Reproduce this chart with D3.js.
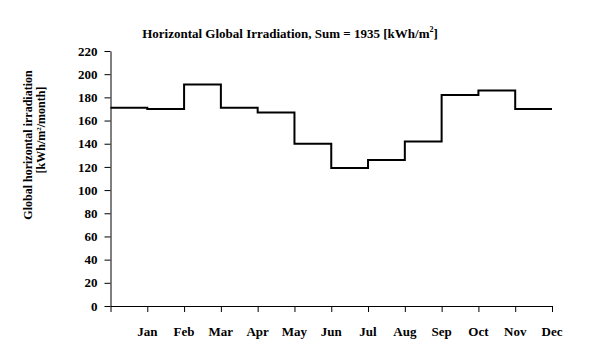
<!DOCTYPE html>
<html>
<head>
<meta charset="utf-8">
<script src="https://cdn.jsdelivr.net/npm/d3@7"></script>
<style>
  body { margin: 0; background: #fff; }
  text { font-family: "Liberation Serif", "Times New Roman", serif; font-weight: bold; fill: #000; }
</style>
</head>
<body>
<div id="chart"></div>
<script>
// monthly global horizontal irradiation, kWh/m2/month
const months = ["Jan", "Feb", "Mar", "Apr", "May", "Jun", "Jul", "Aug", "Sep", "Oct", "Nov", "Dec"];
const irradiation = [171, 170, 191, 171, 167, 140, 119, 126, 142, 182, 186, 170];
const yTicks = [0, 20, 40, 60, 80, 100, 120, 140, 160, 180, 200, 220];

const width = 610, height = 357;
const margin = { left: 110.5, right: 58, top: 51, bottom: 51 };

const svg = d3.select("#chart").append("svg")
    .attr("width", width)
    .attr("height", height);

const x = d3.scaleLinear().domain([0, 12]).range([margin.left, width - margin.right]);
const y = d3.scaleLinear().domain([0, 220]).range([height - margin.bottom, margin.top]);

// y axis
const yAxis = svg.append("g")
    .attr("transform", `translate(${margin.left},0)`)
    .call(d3.axisLeft(y).tickValues(yTicks).tickSize(6).tickPadding(7).tickSizeOuter(0));
yAxis.attr("font-family", null).attr("font-size", null);
yAxis.select(".domain").attr("stroke", "#000");
yAxis.selectAll(".tick line").attr("stroke", "#000");
yAxis.selectAll("text").attr("font-size", 13);

// x axis, month labels sit under the tick at the end of each month
const xAxis = svg.append("g")
    .attr("transform", `translate(0,${y(0)})`)
    .call(d3.axisBottom(x).tickValues(d3.range(0, 13)).tickSize(6).tickSizeOuter(0).tickFormat(""));
xAxis.select(".domain").attr("stroke", "#000");
xAxis.selectAll(".tick line").attr("stroke", "#000");

svg.append("g").selectAll("text")
    .data(months)
    .join("text")
    .attr("x", (d, i) => x(i + 1))
    .attr("y", y(0) + 30)
    .attr("text-anchor", "middle")
    .attr("font-size", 13)
    .text(d => d);

// step line
const stepData = irradiation.map((v, i) => ({ i, v })).concat([{ i: 12, v: irradiation[11] }]);
const line = d3.line()
    .x(d => x(d.i))
    .y(d => y(d.v))
    .curve(d3.curveStepAfter);

svg.append("path")
    .datum(stepData)
    .attr("d", line)
    .attr("fill", "none")
    .attr("stroke", "#000")
    .attr("stroke-width", 2);

// title
const title = svg.append("text")
    .attr("x", 290)
    .attr("y", 38)
    .attr("text-anchor", "middle")
    .attr("font-size", 13);
title.append("tspan").text("Horizontal Global Irradiation, Sum = 1935 [kWh/m");
title.append("tspan").attr("font-size", 8).attr("dy", -6).text("2");
title.append("tspan").attr("dy", 6).text("]");

// y axis title
const yLabel = svg.append("g").attr("transform", "rotate(-90)");
yLabel.append("text")
    .attr("x", -145)
    .attr("y", 32)
    .attr("text-anchor", "middle")
    .attr("font-size", 12)
    .text("Global horizontal irradiation");
const yl2 = yLabel.append("text")
    .attr("x", -130)
    .attr("y", 45)
    .attr("text-anchor", "middle")
    .attr("font-size", 12);
yl2.append("tspan").text("[kWh/m");
yl2.append("tspan").attr("font-size", 7).attr("dy", -4).text("2");
yl2.append("tspan").attr("dy", 4).text("/month]");
</script>
</body>
</html>
